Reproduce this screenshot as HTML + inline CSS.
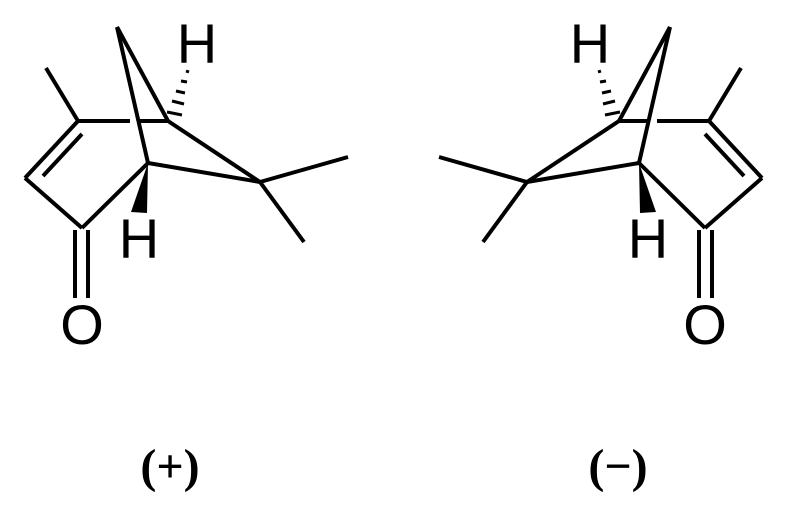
<!DOCTYPE html>
<html><head><style>html,body{margin:0;padding:0;background:#fff;width:787px;height:512px;overflow:hidden}</style></head>
<body>
<svg width="787" height="512" viewBox="0 0 787 512" xmlns="http://www.w3.org/2000/svg">
<defs>
<g id="m" stroke="#000" stroke-width="4" fill="none" stroke-linecap="butt">
  <line x1="46" y1="68" x2="78" y2="121"/>
  <line x1="78" y1="121" x2="130" y2="121"/>
  <line x1="137" y1="121" x2="168" y2="121"/>
  <line x1="117" y1="27" x2="168" y2="121"/>
  <line x1="117" y1="27" x2="148" y2="163"/>
  <line x1="78" y1="121" x2="25" y2="178"/>
  <line x1="43" y1="176" x2="82" y2="134"/>
  <line x1="25" y1="178" x2="82" y2="228"/>
  <line x1="82" y1="228" x2="148" y2="163"/>
  <line x1="148" y1="163" x2="260" y2="182"/>
  <line x1="168" y1="121" x2="260" y2="182"/>
  <line x1="260" y1="182" x2="348" y2="157"/>
  <line x1="260" y1="182" x2="304" y2="242"/>
  <line x1="75" y1="230" x2="75" y2="298"/>
  <line x1="88" y1="230" x2="88" y2="298"/>
  <polygon points="148,163 131,212 147,213" fill="#000" stroke="none"/>
  <g stroke-width="3">
    <line x1="167" y1="112" x2="182" y2="115"/>
    <line x1="172" y1="101" x2="184" y2="104"/>
    <line x1="176" y1="91" x2="185" y2="93"/>
    <line x1="181" y1="81" x2="187" y2="82"/>
    <line x1="186" y1="71" x2="189" y2="72"/>
  </g>
</g>
</defs>
<use href="#m"/>
<use href="#m" transform="translate(787,0) scale(-1,1)"/>
<g font-family="Liberation Sans, sans-serif" font-size="56" text-anchor="middle" fill="#000">
  <text x="197" y="63">H</text>
  <text x="139" y="258">H</text>
  <text x="82" y="344">O</text>
  <text x="590" y="63">H</text>
  <text x="648" y="258">H</text>
  <text x="705" y="344">O</text>
</g>
<g font-family="Liberation Serif, serif" font-size="48" font-weight="bold" text-anchor="middle" fill="#000">
  <text x="170" y="482">(+)</text>
  <text x="618" y="482">(−)</text>
</g>
</svg>
</body></html>
